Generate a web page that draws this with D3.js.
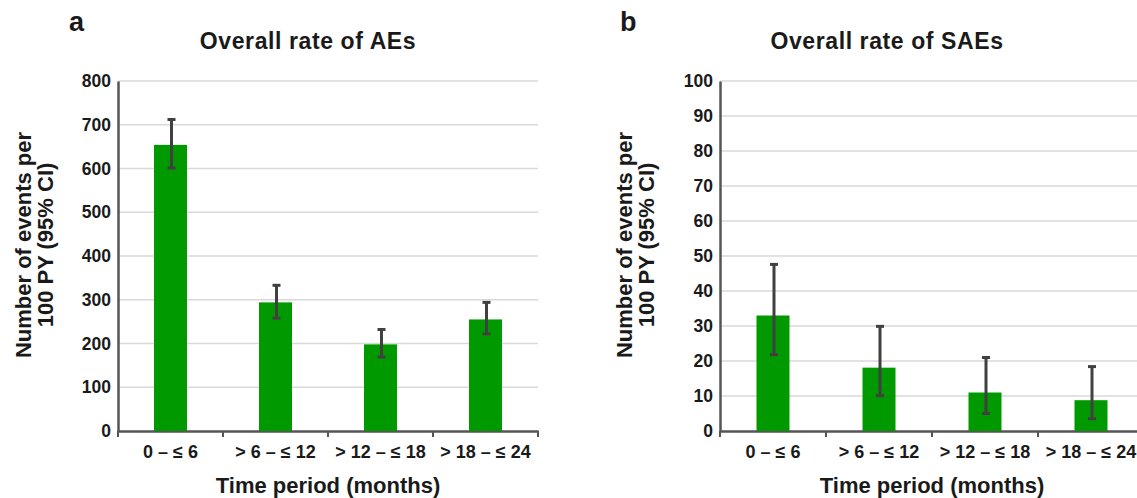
<!DOCTYPE html>
<meta charset="utf-8">
<style>
    body { margin: 0; background: #fff; }
    text { font-family: "Liberation Sans", Arial, sans-serif; font-weight: bold; fill: #1a1a1a; }
</style>
<script src="https://d3js.org/d3.v7.min.js"></script>
<div id="svg-holder"></div>
<script>
    /* Data */
    var periods = ["0 \u2013 \u2264 6", "> 6 \u2013 \u2264 12", "> 12 \u2013 \u2264 18", "> 18 \u2013 \u2264 24"];

    var ae_rate = [654, 294, 198, 255];
    var ae_low  = [601, 258, 169, 222];
    var ae_high = [712, 333, 232, 294];
    var ae_ticks = [0, 100, 200, 300, 400, 500, 600, 700, 800];

    var sae_rate = [33.0, 18.1, 11.0, 8.8];
    var sae_low  = [21.8, 10.1, 5.0, 3.5];
    var sae_high = [47.6, 29.9, 21.0, 18.4];
    var sae_ticks = [0, 10, 20, 30, 40, 50, 60, 70, 80, 90, 100];

    var width = 1137, height = 498;
    var frame = d3.select("#svg-holder").append("svg").attr("width", width).attr("height", height);

    function panel(opt) {
        var g = frame.append("g");
        var x = d3.scaleBand().domain(periods).range([opt.x0, opt.x0 + 4 * opt.band]);
        var y = d3.scaleLinear().domain([0, opt.max]).range([431, 81]);

        // panel letter + title
        g.append("text").attr("x", opt.letterX).attr("y", 31).attr("font-size", "27px").text(opt.letter);
        g.append("text").attr("x", opt.titleX).attr("y", 49).attr("text-anchor", "middle")
            .attr("font-size", "23px").attr("letter-spacing", "0.6px").text(opt.title);

        // gridlines
        g.selectAll(".grid").data(opt.ticks.slice(1)).enter().append("line")
            .attr("x1", opt.x0).attr("x2", opt.x0 + 4 * opt.band)
            .attr("y1", function(d) { return y(d); }).attr("y2", function(d) { return y(d); })
            .attr("stroke", "#d9d9d9").attr("stroke-width", 1.5);

        // y axis
        var yAxis = d3.axisLeft(y).tickValues(opt.ticks).tickSize(0).tickPadding(7);
        var ya = g.append("g").attr("transform", "translate(" + opt.x0 + ",0)").call(yAxis);
        ya.select(".domain").attr("stroke", "#555").attr("stroke-width", 2.5);
        ya.selectAll("text").attr("font-size", "17.5px").attr("fill", "#1a1a1a")
            .attr("font-family", "Liberation Sans, Arial, sans-serif").attr("font-weight", "bold");

        // x axis
        var xAxis = d3.axisBottom(x).tickSize(0).tickPadding(14);
        var xa = g.append("g").attr("transform", "translate(0,431)").call(xAxis);
        xa.select(".domain").attr("stroke", "#555").attr("stroke-width", 2.5);
        xa.selectAll("text").attr("font-size", "18px").attr("fill", "#1a1a1a")
            .attr("font-family", "Liberation Sans, Arial, sans-serif").attr("font-weight", "bold");
        // category boundary ticks
        g.selectAll(".bt").data(d3.range(5)).enter().append("line")
            .attr("x1", function(i) { return opt.x0 + i * opt.band; })
            .attr("x2", function(i) { return opt.x0 + i * opt.band; })
            .attr("y1", 431).attr("y2", 437).attr("stroke", "#555").attr("stroke-width", 2);

        // bars
        var bw = 33;
        g.selectAll(".bar").data(opt.rate).enter().append("rect")
            .attr("x", function(d, i) { return x(periods[i]) + x.bandwidth() / 2 - bw / 2; })
            .attr("y", function(d) { return y(d); })
            .attr("width", bw).attr("height", function(d) { return 431 - y(d); })
            .attr("fill", "#009a00");

        // error bars
        opt.rate.forEach(function(d, i) {
            var cx = x(periods[i]) + x.bandwidth() / 2 + 1;
            g.append("line").attr("x1", cx).attr("x2", cx)
                .attr("y1", y(opt.low[i])).attr("y2", y(opt.high[i]))
                .attr("stroke", "#404040").attr("stroke-width", 3);
            [opt.low[i], opt.high[i]].forEach(function(v) {
                g.append("line").attr("x1", cx - 4).attr("x2", cx + 4)
                    .attr("y1", y(v)).attr("y2", y(v))
                    .attr("stroke", "#404040").attr("stroke-width", 3);
            });
        });

        // axis titles
        g.append("text").attr("x", opt.x0 + 2 * opt.band).attr("y", 493).attr("text-anchor", "middle")
            .attr("font-size", "22px").text("Time period (months)");
        var yt = g.append("text").attr("transform", "translate(" + opt.ytX + ",245) rotate(-90)")
            .attr("text-anchor", "middle").attr("font-size", "22px");
        yt.append("tspan").attr("x", 0).attr("y", 0).text("Number of events per");
        yt.append("tspan").attr("x", 0).attr("y", 22).text("100 PY (95% CI)");
    }

    panel({ x0: 118, band: 105, max: 800, ticks: ae_ticks, rate: ae_rate, low: ae_low, high: ae_high,
            letter: "a", letterX: 69, title: "Overall rate of AEs", titleX: 308, ytX: 31 });
    panel({ x0: 720, band: 106, max: 100, ticks: sae_ticks, rate: sae_rate, low: sae_low, high: sae_high,
            letter: "b", letterX: 620, title: "Overall rate of SAEs", titleX: 887, ytX: 632 });
</script>
